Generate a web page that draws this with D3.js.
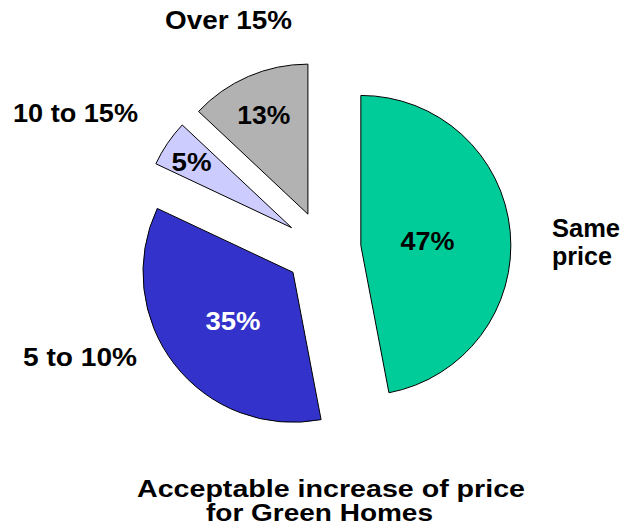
<!DOCTYPE html>
<html>
<head>
<meta charset="utf-8">
<script src="https://cdn.jsdelivr.net/npm/d3@7"></script>
<style>
  html, body { margin: 0; padding: 0; background: #fff; }
  svg text { font-family: "Liberation Sans", Arial, sans-serif; font-weight: bold; }
</style>
</head>
<body>
<div class="chart"></div>
<script>
// data, clockwise from 12 o'clock
const categories = ["Same price", "5 to 10%", "10 to 15%", "Over 15%"];
const shares = [47, 35, 5, 13];
const sliceColors = ["#00CC99", "#3333CC", "#CCCCFF", "#B2B2B2"];
const valueLabels = ["47%", "35%", "5%", "13%"];
const titleLines = ["Acceptable increase of price", "for Green Homes"];

const width = 626;
const height = 529;
const cx = 323;
const cy = 249;
const radius = 150;
const explode = 38;

// layout of the texts (not data)
const labelRadius = [67, 76, 121, 111];
const labelWidth = [54, 55, 40, 53];
const labelFill = ["#000", "#fff", "#000", "#000"];
const outerLabels = [
  { lines: ["Same", "price"], x: 552, y: [237, 265], w: [68, 60], anchor: "start" },
  { lines: ["5 to 10%"], x: 23, y: [366], w: [114], anchor: "start" },
  { lines: ["10 to 15%"], x: 13, y: [122], w: [125], anchor: "start" },
  { lines: ["Over 15%"], x: 165, y: [29], w: [127], anchor: "start" }
];

const svg = d3.select(".chart")
  .append("svg")
  .attr("width", width)
  .attr("height", height);

const pie = d3.pie().sort(null).value((d) => d);
const arcs = pie(shares);
const arc = d3.arc().innerRadius(0).outerRadius(radius);

const slices = svg.append("g")
  .attr("transform", `translate(${cx},${cy})`)
  .selectAll("g")
  .data(arcs)
  .enter()
  .append("g")
  .attr("transform", (d) => {
    const [ox, oy] = d3.pointRadial((d.startAngle + d.endAngle) / 2, explode);
    return `translate(${ox},${oy})`;
  });

slices.append("path")
  .attr("d", arc)
  .attr("fill", (d, i) => sliceColors[i])
  .attr("stroke", "#000")
  .attr("stroke-width", 1)
  .attr("stroke-linejoin", "round");

slices.append("text")
  .attr("x", (d, i) => d3.pointRadial((d.startAngle + d.endAngle) / 2, labelRadius[i])[0])
  .attr("y", (d, i) => d3.pointRadial((d.startAngle + d.endAngle) / 2, labelRadius[i])[1])
  .attr("dy", "0.45em")
  .attr("text-anchor", "middle")
  .attr("font-size", 25)
  .attr("textLength", (d, i) => labelWidth[i])
  .attr("lengthAdjust", "spacingAndGlyphs")
  .attr("fill", (d, i) => labelFill[i])
  .text((d, i) => valueLabels[i]);

// category labels around the pie
outerLabels.forEach((lab) => {
  lab.lines.forEach((line, j) => {
    svg.append("text")
      .attr("x", lab.x)
      .attr("y", lab.y[j])
      .attr("text-anchor", lab.anchor)
      .attr("font-size", 25)
      .attr("textLength", lab.w[j])
      .attr("lengthAdjust", "spacingAndGlyphs")
      .attr("fill", "#000")
      .text(line);
  });
});

// caption under the pie
const titleX = [137, 206];
const titleY = [497, 521];
const titleW = [388, 227];
titleLines.forEach((line, i) => {
  svg.append("text")
    .attr("x", titleX[i])
    .attr("y", titleY[i])
    .attr("font-size", 23)
    .attr("textLength", titleW[i])
    .attr("lengthAdjust", "spacingAndGlyphs")
    .attr("fill", "#000")
    .text(line);
});
</script>
</body>
</html>
